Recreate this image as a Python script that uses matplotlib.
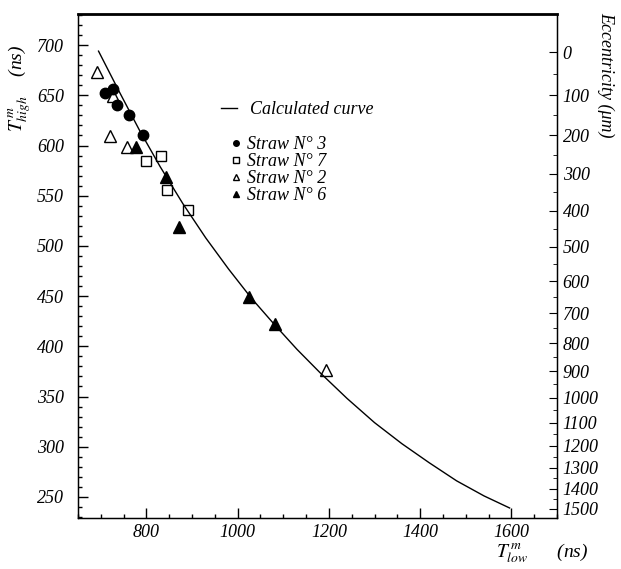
import matplotlib
matplotlib.use("Agg")
import matplotlib.pyplot as plt
from matplotlib.ticker import MultipleLocator
from matplotlib.lines import Line2D

plt.rcParams['font.family'] = ['Liberation Serif', 'DejaVu Serif']
plt.rcParams['font.style'] = 'italic'
plt.rcParams['mathtext.fontset'] = 'stix'

# calculated curve, T_low vs T_high (ns)
curve_x = [695, 740, 785, 830, 880, 930, 980, 1030, 1080, 1130, 1180, 1240, 1300, 1360, 1420, 1480, 1540, 1596]
curve_t = [694, 654, 615, 579, 542, 508, 477, 448, 422, 397, 374, 348, 324, 303, 284, 266, 251, 239]

# measured straws
straw3_x = [710, 726, 735, 761, 792]
straw3_t = [652, 656, 640, 630, 610]
straw7_x = [798, 832, 844, 892]
straw7_t = [585, 590, 556, 536]
straw2_x = [692, 726, 721, 758, 1194]
straw2_t = [673, 649, 609, 599, 376]
straw6_x = [777, 842, 872, 1025, 1081]
straw6_t = [599, 569, 519, 449, 422]

# eccentricity scale (um) on the right, placed at T_high values
ecc_labels = [0, 100, 200, 300, 400, 500, 600, 700, 800, 900, 1000, 1100, 1200, 1300, 1400, 1500]
ecc_pos = [693, 650, 610, 572, 535, 499, 465, 433, 403, 375, 349, 324, 301, 279, 258, 238]

fig = plt.figure(figsize=(6.21, 5.69), dpi=100)
ax = fig.add_axes([78 / 621, 1 - 518 / 569, (557 - 78) / 621, (518 - 14) / 569])

ax.plot(curve_x, curve_t, '-', color='black', lw=1.0, zorder=3)
ax.plot(straw3_x, straw3_t, 'o', color='black', ms=7.5, zorder=4)
ax.plot(straw7_x, straw7_t, 's', mfc='white', mec='black', mew=1.0, ms=7.5, zorder=2)
ax.plot(straw2_x, straw2_t, '^', mfc='white', mec='black', mew=1.0, ms=8, zorder=2)
ax.plot(straw6_x, straw6_t, '^', color='black', ms=8, zorder=4)

ax.set_xlim(650, 1700)
ax.set_ylim(229, 731)
ax.xaxis.set_minor_locator(MultipleLocator(50))
ax.yaxis.set_major_locator(MultipleLocator(50))
ax.yaxis.set_minor_locator(MultipleLocator(10))
ax.set_xticks([800, 1000, 1200, 1400, 1600])
ax.tick_params(axis='both', which='both', direction='in', top=False, right=False, labelsize=13)
ax.tick_params(axis='both', which='major', length=7, width=1)
ax.tick_params(axis='both', which='minor', length=3, width=1)
ax.tick_params(axis='x', pad=4)
ax.tick_params(axis='y', pad=10)
for s in ax.spines.values():
    s.set_linewidth(1.0)
ax.spines['top'].set_linewidth(2.0)

ax2 = ax.twinx()
ax2.set_ylim(ax.get_ylim())
ax2.set_yticks(ecc_pos)
ax2.set_yticklabels([str(v) for v in ecc_labels])
mids = [(a + b) / 2 for a, b in zip(ecc_pos[:-1], ecc_pos[1:])]
ax2.set_yticks(mids, minor=True)
ax2.tick_params(axis='y', which='both', direction='in', labelsize=13, pad=4)
ax2.tick_params(axis='y', which='major', length=6)
ax2.tick_params(axis='y', which='minor', length=3)

# legends
h1 = [Line2D([], [], color='black', lw=1.0)]
leg1 = ax.legend(h1, ['Calculated curve'], loc='center left', bbox_to_anchor=(0.28, 0.81),
                 frameon=False, fontsize=13, handlelength=0.9, handletextpad=0.7, borderpad=0)
ax.add_artist(leg1)
h2 = [Line2D([], [], ls='', marker='o', color='black', ms=4),
      Line2D([], [], ls='', marker='s', mfc='white', mec='black', ms=4),
      Line2D([], [], ls='', marker='^', mfc='white', mec='black', ms=4.5),
      Line2D([], [], ls='', marker='^', color='black', ms=4.5)]
ax.legend(h2, ['Straw N° 3', 'Straw N° 7', 'Straw N° 2', 'Straw N° 6'], loc='upper left',
          bbox_to_anchor=(0.295, 0.776), frameon=False, fontsize=13, handlelength=0.8,
          handletextpad=0.25, labelspacing=0.0, borderpad=0)

# axis titles
fig.text(20 / 621, 1 - 88 / 569, r'$T^{\,m}_{high}$    (ns)', rotation=90, ha='center', va='center', fontsize=14)
fig.text(606 / 621, 1 - 75 / 569, 'Eccentricity (μm)', rotation=-90, ha='center', va='center', fontsize=13)
fig.text(542 / 621, 1 - 553 / 569, r'$T^{\,m}_{low}$      (ns)', ha='center', va='center', fontsize=14)

fig.savefig('out.png', dpi=100, facecolor='white')
